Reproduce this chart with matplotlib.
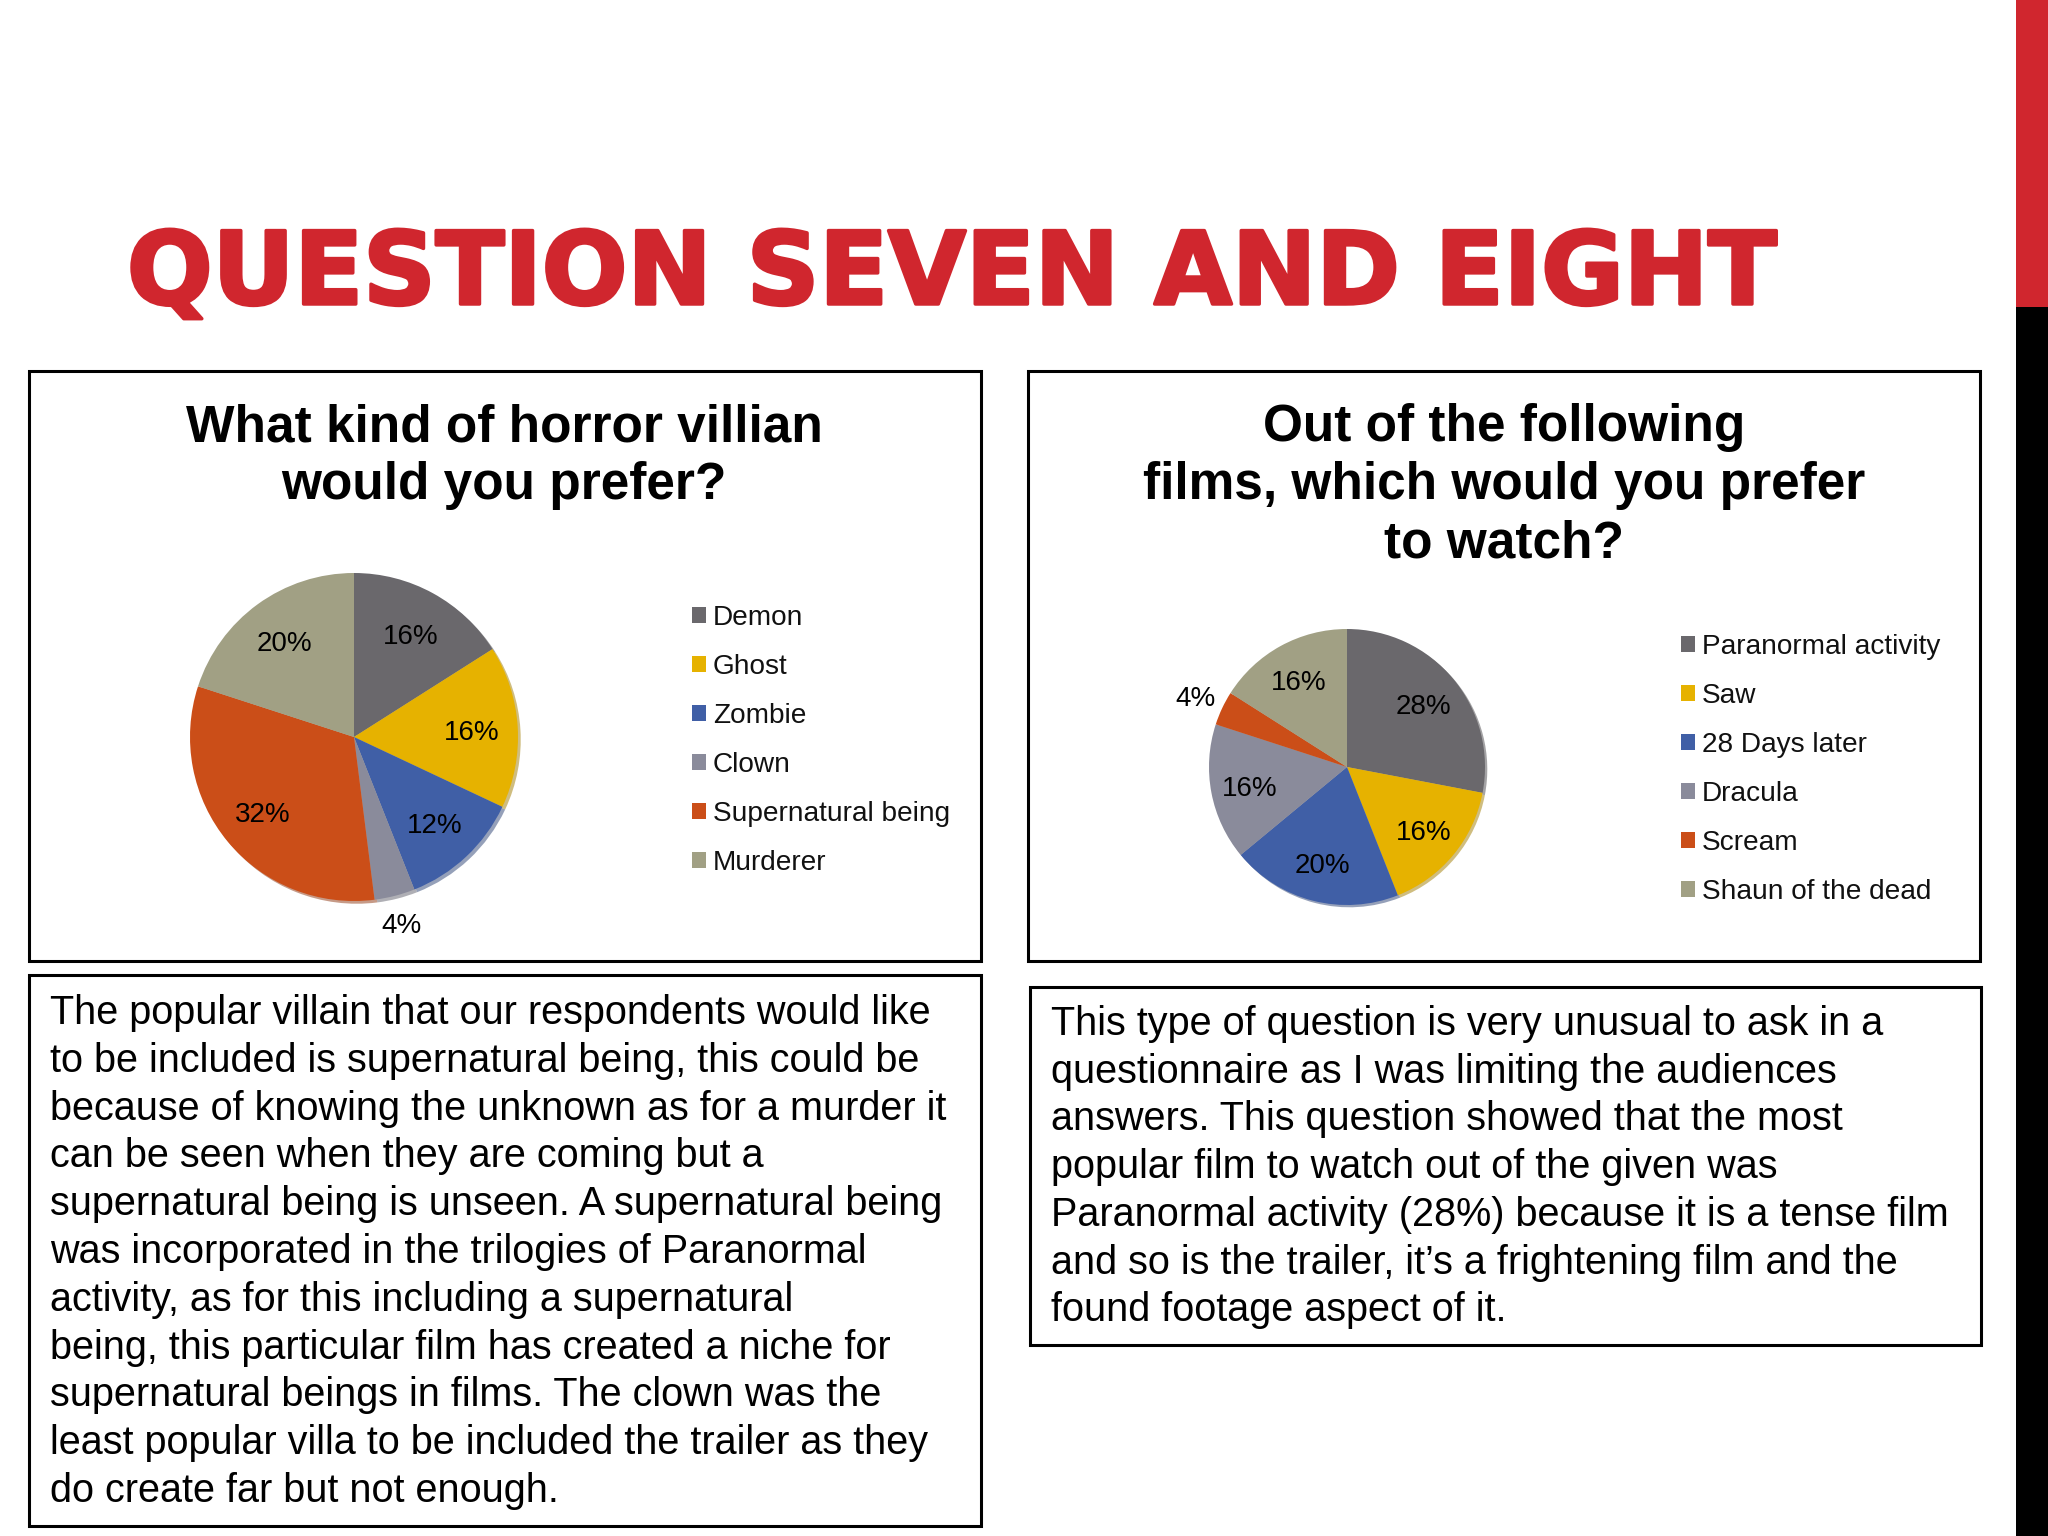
import matplotlib
matplotlib.use("Agg")
import matplotlib.pyplot as plt
from matplotlib.patches import Rectangle, Patch
import matplotlib.patheffects as pe
import numpy as np

W, H = 2048, 1536
RED = "#D0262E"

title = "QUESTION SEVEN AND EIGHT"

villain_title = "What kind of horror villian\nwould you prefer?"
villain_labels = ["Demon", "Ghost", "Zombie", "Clown", "Supernatural being", "Murderer"]
villain_values = [16, 16, 12, 4, 32, 20]

film_title = "Out of the following\nfilms, which would you prefer\nto watch?"
film_labels = ["Paranormal activity", "Saw", "28 Days later", "Dracula", "Scream", "Shaun of the dead"]
film_values = [28, 16, 20, 16, 4, 16]

slice_colors = ["#6A686C", "#E6B200", "#405FA6", "#8A8B9B", "#CB4E18", "#A1A084"]

villain_text = [
    "The popular villain that our respondents would like",
    "to be included is supernatural being, this could be",
    "because of knowing the unknown as for a murder it",
    "can be seen when they are coming but a",
    "supernatural being is unseen. A supernatural being",
    "was incorporated in the trilogies of Paranormal",
    "activity, as for this including a supernatural",
    "being, this particular film has created a niche for",
    "supernatural beings in films. The clown was the",
    "least popular villa to be included the trailer as they",
    "do create far but not enough.",
]

film_text = [
    "This type of question is very unusual to ask in a",
    "questionnaire as I was limiting the audiences",
    "answers. This question showed that the most",
    "popular film to watch out of the given was",
    "Paranormal activity (28%) because it is a tense film",
    "and so is the trailer, it\u2019s a frightening film and the",
    "found footage aspect of it.",
]

SANS = ["Liberation Sans", "DejaVu Sans"]

fig = plt.figure(figsize=(W / 100, H / 100), dpi=100)
fig.patch.set_facecolor("white")

# slide canvas in pixel coordinates, y going down
ax = fig.add_axes([0, 0, 1, 1])
ax.set_xlim(0, W)
ax.set_ylim(H, 0)
ax.axis("off")

# side bar
ax.add_patch(Rectangle((2016, 0), W - 2016, 307, color=RED, lw=0))
ax.add_patch(Rectangle((2016, 307), W - 2016, H - 307, color="black", lw=0))

ax.text(127, 304, title, fontsize=72.5, fontweight="bold", family="DejaVu Sans",
        color=RED, va="baseline", ha="left",
        path_effects=[pe.withStroke(linewidth=2.5, foreground=RED)])

# boxes
for x0, y0, x1, y1 in [(29, 371, 981, 961), (1028, 371, 1980, 961),
                       (29, 975, 981, 1526), (1030, 987, 1981, 1345)]:
    ax.add_patch(Rectangle((x0, y0), x1 - x0, y1 - y0, fill=False,
                           edgecolor="black", lw=2.2))

# chart titles
for i, line in enumerate(villain_title.split("\n")):
    ax.text(504, 441 + i * 58.5, line, fontsize=37, fontweight="bold", family=SANS,
            ha="center", va="baseline", color="black")
for i, line in enumerate(film_title.split("\n")):
    ax.text(1504, 441 + i * 58.5, line, fontsize=37, fontweight="bold", family=SANS,
            ha="center", va="baseline", color="black")

# body text
for i, line in enumerate(villain_text):
    ax.text(50, 1024 + i * 47.8, line, fontsize=28.55, family=SANS,
            ha="left", va="baseline", color="black")
for i, line in enumerate(film_text):
    ax.text(1051, 1035 + i * 47.7, line, fontsize=28.55, family=SANS,
            ha="left", va="baseline", color="black")


def draw_pie(cx, cy, r, values, outside_dist):
    pax = fig.add_axes([(cx - r) / W, 1 - (cy + r) / H, 2 * r / W, 2 * r / H])
    wedges, _, pct = pax.pie(
        values, colors=slice_colors, startangle=90, counterclock=False,
        autopct="%d%%", pctdistance=0.72, radius=1,
        wedgeprops=dict(linewidth=0),
        shadow=dict(ox=0.012, oy=-0.012, shade=0.3),
        textprops=dict(fontsize=20, family=SANS, color="black"),
    )
    for w, t, v in zip(wedges, pct, values):
        t.set_va("center_baseline")
        if v < 5:
            ang = np.deg2rad((w.theta1 + w.theta2) / 2)
            t.set_position((outside_dist * np.cos(ang), outside_dist * np.sin(ang)))
    pax.set_xlim(-1, 1)
    pax.set_ylim(-1, 1)
    pax.axis("off")
    return wedges


def draw_legend(wedges, labels, x, y_first):
    handles = [Patch(facecolor=w.get_facecolor(), edgecolor="none") for w in wedges]
    fig.legend(handles, labels, loc="upper left", bbox_to_anchor=(x, y_first),
               bbox_transform=ax.transData, frameon=False, borderpad=0,
               borderaxespad=0, handlelength=0.5, handleheight=0.5,
               handletextpad=0.25, labelspacing=0.82,
               prop=dict(family=SANS, size=20.2), labelcolor="#111111")


w1 = draw_pie(354, 737, 164, villain_values, 1.17)
draw_legend(w1, villain_labels, 692, 605)

w2 = draw_pie(1347, 767, 138, film_values, 1.21)
draw_legend(w2, film_labels, 1681, 634)

fig.savefig("out.png", dpi=100, facecolor="white")
